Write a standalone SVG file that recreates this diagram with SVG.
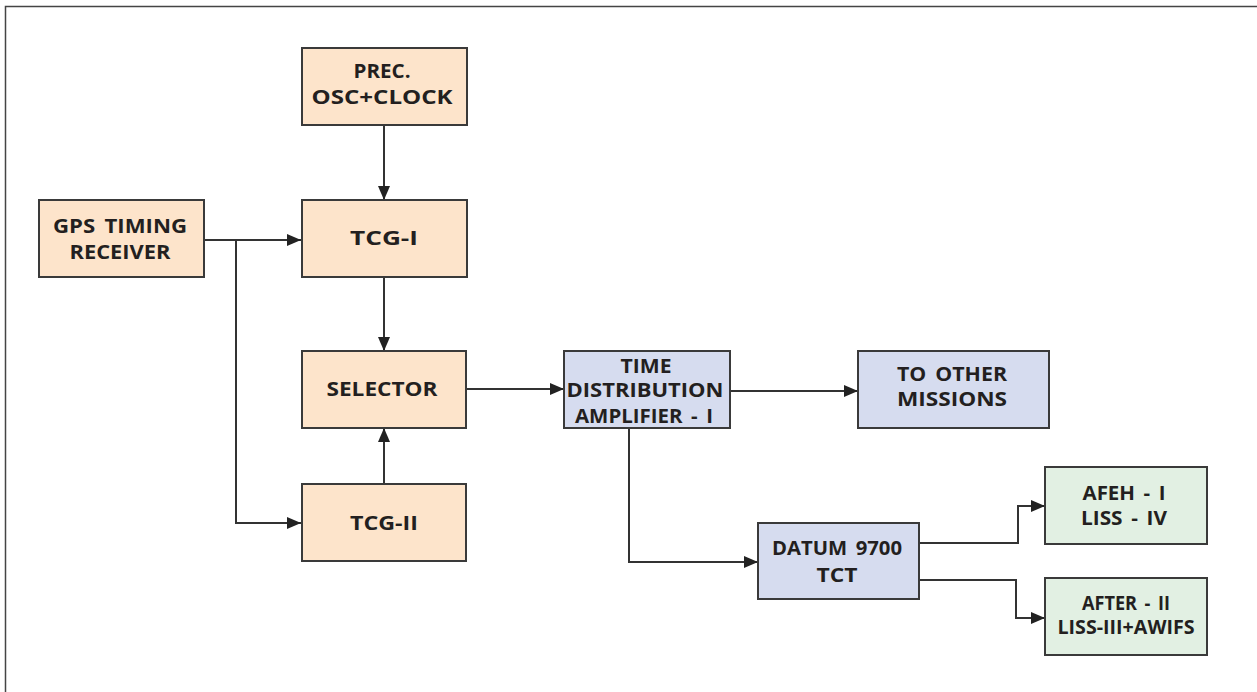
<svg xmlns="http://www.w3.org/2000/svg" width="1257" height="692" viewBox="0 0 1257 692">
<defs>
<style>
.box{stroke:#3a3a3a;stroke-width:2}
.o{fill:#fde4cb}
.b{fill:#d6dcef}
.g{fill:#e2f0e3}
text{font-family:"Open Sans","Liberation Sans",sans-serif;font-weight:700;font-size:19px;fill:#231f20;text-anchor:middle;word-spacing:3px}
.c{fill:none;stroke:#333;stroke-width:2}
</style>
<marker id="ah" markerUnits="userSpaceOnUse" markerWidth="14" markerHeight="14" viewBox="0 0 14 14" refX="14" refY="7" orient="auto">
<path d="M0,1 L14,7 L0,13 Z" fill="#222"/>
</marker>
</defs>
<rect width="1257" height="692" fill="#fff"/>
<path d="M5.5,692 V6.5 H1257" fill="none" stroke="#444" stroke-width="1.5"/>
<g id="connectors">
<path class="c" d="M384,125 V200" marker-end="url(#ah)"/>
<path class="c" d="M204,240 H301" marker-end="url(#ah)"/>
<path class="c" d="M236,240 V523 H301" marker-end="url(#ah)"/>
<path class="c" d="M384,277 V351" marker-end="url(#ah)"/>
<path class="c" d="M384,484 V428" marker-end="url(#ah)"/>
<path class="c" d="M466,389 H564" marker-end="url(#ah)"/>
<path class="c" d="M730,391 H858" marker-end="url(#ah)"/>
<path class="c" d="M629,428 V562 H758" marker-end="url(#ah)"/>
<path class="c" d="M919,543 H1018 V506 H1045" marker-end="url(#ah)"/>
<path class="c" d="M919,580 H1016 V618 H1045" marker-end="url(#ah)"/>
</g>
<g id="prec">
<rect class="box o" x="302" y="48" width="165" height="77"/>
<text x="382" y="78" textLength="57" lengthAdjust="spacingAndGlyphs">PREC.</text>
<text x="382" y="104" textLength="141" lengthAdjust="spacingAndGlyphs">OSC+CLOCK</text>
</g>
<g id="gps">
<rect class="box o" x="39" y="200" width="165" height="77"/>
<text x="120" y="233" textLength="134" lengthAdjust="spacingAndGlyphs">GPS TIMING</text>
<text x="120" y="259" textLength="101" lengthAdjust="spacingAndGlyphs">RECEIVER</text>
</g>
<g id="tcg1">
<rect class="box o" x="302" y="200" width="165" height="77"/>
<text x="384" y="245" textLength="68" lengthAdjust="spacingAndGlyphs">TCG-I</text>
</g>
<g id="selector">
<rect class="box o" x="302" y="351" width="164" height="77"/>
<text x="382" y="396" textLength="111" lengthAdjust="spacingAndGlyphs">SELECTOR</text>
</g>
<g id="tcg2">
<rect class="box o" x="302" y="484" width="164" height="77"/>
<text x="384" y="530" textLength="68" lengthAdjust="spacingAndGlyphs">TCG-II</text>
</g>
<g id="tda">
<rect class="box b" x="564" y="351" width="166" height="77"/>
<text x="646" y="373" textLength="51" lengthAdjust="spacingAndGlyphs">TIME</text>
<text x="645" y="397" textLength="157" lengthAdjust="spacingAndGlyphs">DISTRIBUTION</text>
<text x="644" y="423" textLength="138" lengthAdjust="spacingAndGlyphs">AMPLIFIER - I</text>
</g>
<g id="other">
<rect class="box b" x="858" y="351" width="191" height="77"/>
<text x="952" y="381" textLength="110" lengthAdjust="spacingAndGlyphs">TO OTHER</text>
<text x="952" y="406" textLength="110" lengthAdjust="spacingAndGlyphs">MISSIONS</text>
</g>
<g id="datum">
<rect class="box b" x="758" y="523" width="161" height="76"/>
<text x="837" y="555" textLength="130" lengthAdjust="spacingAndGlyphs">DATUM 9700</text>
<text x="837" y="582" textLength="41" lengthAdjust="spacingAndGlyphs">TCT</text>
</g>
<g id="afeh">
<rect class="box g" x="1045" y="467" width="162" height="77"/>
<text x="1124" y="500" textLength="83" lengthAdjust="spacingAndGlyphs">AFEH - I</text>
<text x="1124" y="525" textLength="86" lengthAdjust="spacingAndGlyphs">LISS - IV</text>
</g>
<g id="after">
<rect class="box g" x="1045" y="578" width="162" height="77"/>
<text x="1126" y="610" textLength="88" lengthAdjust="spacingAndGlyphs">AFTER - II</text>
<text x="1126" y="634" textLength="137" lengthAdjust="spacingAndGlyphs">LISS-III+AWIFS</text>
</g>
</svg>
